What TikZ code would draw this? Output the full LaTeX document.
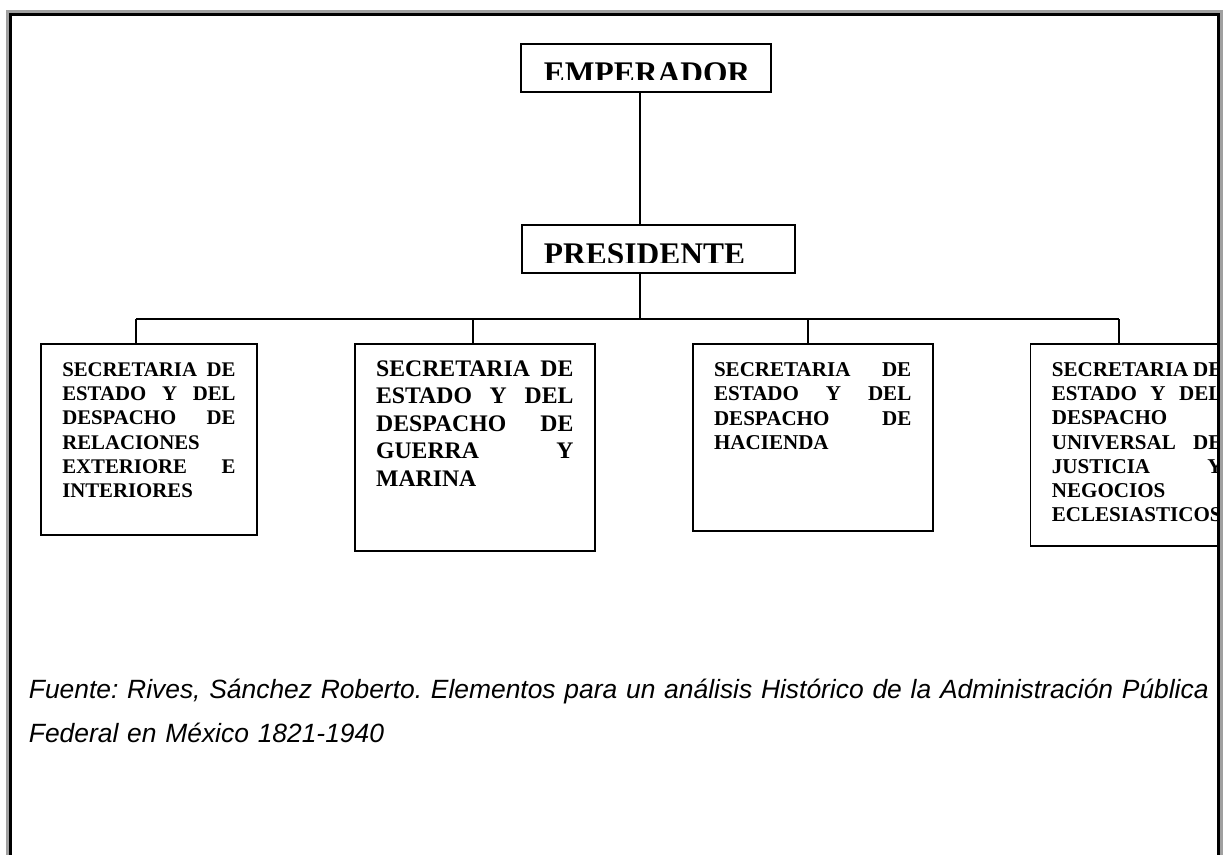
\documentclass[tikz,border=0pt]{standalone}
\usepackage{fontspec}
\setmainfont{Liberation Serif}
\setsansfont{Liberation Sans}
\usetikzlibrary{positioning}
\definecolor{framegray}{RGB}{160,160,160}
\hyphenpenalty=10000
\exhyphenpenalty=10000
\frenchspacing

\begin{document}
\begin{tikzpicture}[
  x=0.75pt, y=-0.75pt,
  line width=1.4pt,
  node distance=72pt,
  topbox/.style={draw, anchor=north west, inner sep=0pt},
  toplabel/.style={anchor=base west, inner sep=0pt, font=\fontsize{23.6}{26}\selectfont\bfseries},
  secbox/.style={draw, anchor=north west, inner xsep=16pt, inner ysep=0pt, align=justify, text height=24pt},
  caption/.style={anchor=base west, inner sep=0pt, text width=1000pt, align=left, font=\sffamily\itshape\fontsize{19.8}{33}\selectfont}
]
  \useasboundingbox (0,0) rectangle (1228,855);

  % top of the chart
  \node[topbox, minimum width=187.5pt, minimum height=36pt] (emperador) at (520,42.7) {};
  \node[topbox, minimum width=205pt, minimum height=35.8pt] (presidente) at (520.7,224) {};
  \begin{scope}
    \clip (520,42.7) rectangle (770,79.3);
    \node[toplabel] (emperadorlbl) at (543,83.6) {EMPERADOR};
  \end{scope}
  \begin{scope}
    \clip (520.7,224) rectangle (794,262.7);
    \node[toplabel] (presidentelbl) at (543,264.9) {PRESIDENTE};
  \end{scope}

  % the four secretarias
  \begin{scope}
    \clip (0,0) rectangle (1219,860);
    \node[secbox, text width=130pt, text depth=119pt,
          font=\fontsize{15.6}{18.2}\selectfont\bfseries] (sec1) at (40,343.3)
      {SECRETARIA DE\linebreak ESTADO Y DEL\linebreak DESPACHO DE\linebreak RELACIONES\linebreak EXTERIORE E\linebreak INTERIORES};
    \node[secbox, text width=148pt, text depth=131pt,
          font=\fontsize{17.8}{20.6}\selectfont\bfseries,
          right=of sec1.north east, anchor=north west] (sec2)
      {SECRETARIA DE\linebreak ESTADO Y DEL\linebreak DESPACHO DE\linebreak GUERRA Y\linebreak MARINA};
    \node[secbox, text width=148pt, text depth=116pt,
          font=\fontsize{15.8}{18.3}\selectfont\bfseries,
          right=of sec2.north east, anchor=north west] (sec3)
      {SECRETARIA DE\linebreak ESTADO Y DEL\linebreak DESPACHO DE\linebreak HACIENDA};
    \node[secbox, text width=128pt, text depth=127pt,
          font=\fontsize{15.8}{18.2}\selectfont\bfseries,
          right=of sec3.north east, anchor=north west] (sec4)
      {SECRETARIA DE\linebreak ESTADO Y DEL\linebreak DESPACHO\linebreak UNIVERSAL DE\linebreak JUSTICIA Y\linebreak NEGOCIOS\linebreak ECLESIASTICOS};
  \end{scope}

  % connectors
  \coordinate (hub) at (640,319.3);
  \coordinate (d1) at (136,319.3);
  \coordinate (d2) at (472.7,319.3);
  \coordinate (d3) at (808.3,319.3);
  \coordinate (d4) at (1119,319.3);
  \draw (emperador.south -| hub) -- (presidente.north -| hub);
  \draw (presidente.south -| hub) -- (hub);
  \draw (d1) -- (d4);
  \foreach \i in {1,...,4}
    \draw (d\i) -- (sec\i.north -| d\i);

  % source
  \node[caption] (fuente) at (28,698)
    {Fuente: Rives, Sánchez Roberto. Elementos para un análisis Histórico de la Administración Pública\\
     Federal en México 1821-1940};

  % page frame
  \draw[framegray, line width=2.25pt] (7.5,860) |- (1221.3,11.5) -- (1221.3,860);
  \draw[line width=2.25pt] (10.5,860) |- (1218.7,14.5) -- (1218.7,860);
\end{tikzpicture}
\end{document}
